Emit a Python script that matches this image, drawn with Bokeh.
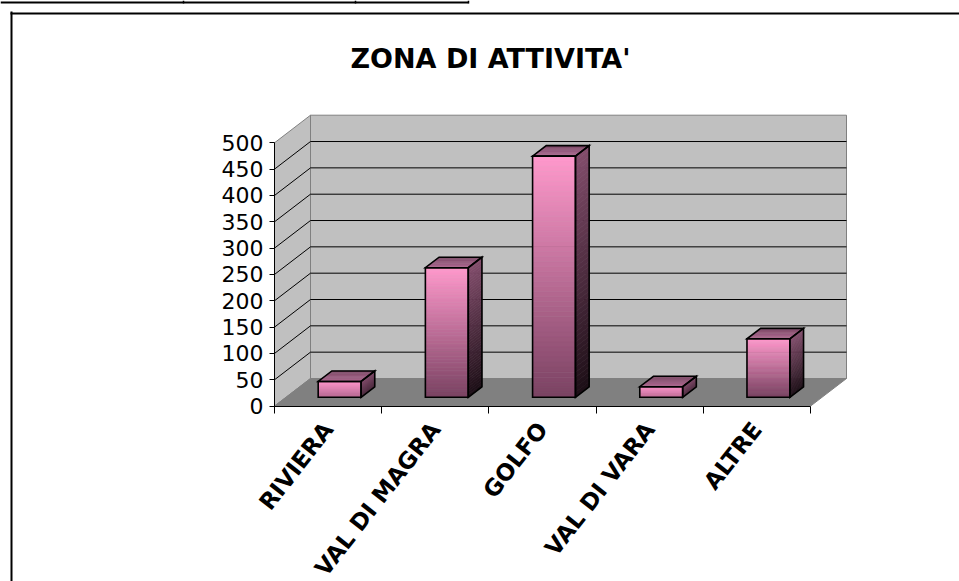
import math
from bokeh.plotting import figure
from bokeh.models import LinearAxis, FixedTicker, Range1d, Label
from bokeh.embed import file_html
from bokeh.resources import INLINE

# ---------------- data ----------------
categories = ["RIVIERA", "VAL DI MAGRA", "GOLFO", "VAL DI VARA", "ALTRE"]
values = [30, 246, 458, 20, 111]
y_ticks = [0, 50, 100, 150, 200, 250, 300, 350, 400, 450, 500]
title_text = "ZONA DI ATTIVITA'"

# ---------------- layout (pixels of the page) ----------------
W, H = 959, 581
PAGE = 0
ORIGIN_PX = (274.0, 405.6)        # page pixel of the front corner (category 0, value 0)
PX_PER_CAT = 107.2
PX_PER_VAL = 263.3 / 500.0
DEPTH_PX = (36.0, 27.6)           # 3-D depth offset in pixels
Y_MAX = 500
BAR_W = 0.40
BAR_Z0, BAR_Z1 = 0.32, 0.70

DX = DEPTH_PX[0] / PX_PER_CAT
DY = DEPTH_PX[1] / PX_PER_VAL
n = len(categories)


def px2x(px):
    return (px - ORIGIN_PX[0]) / PX_PER_CAT


def px2y(py):
    return (ORIGIN_PX[1] - py) / PX_PER_VAL


x_range = Range1d(px2x(PAGE), px2x(PAGE + W))
y_range = Range1d(px2y(PAGE + H), px2y(PAGE))

p = figure(width=W, height=H, x_range=x_range, y_range=y_range,
           x_axis_type=None, y_axis_type=None, toolbar_location=None,
           output_backend="svg", min_border=0)
p.min_border_left = p.min_border_right = p.min_border_top = p.min_border_bottom = 0
p.outline_line_color = None
p.background_fill_color = "white"
p.border_fill_color = "white"
for g in p.grid:
    g.visible = False

# ---------------- walls & floor ----------------
WALL = "#c0c0c0"
FLOOR = "#808080"
EDGE = "#808080"
p.patch([DX, n + DX, n + DX, DX], [DY, DY, Y_MAX + DY, Y_MAX + DY],
        fill_color=WALL, line_color=EDGE, line_width=1)
p.patch([0, DX, DX, 0], [0, DY, Y_MAX + DY, Y_MAX],
        fill_color=WALL, line_color=EDGE, line_width=1)
p.patch([0, n, n + DX, DX], [0, 0, DY, DY],
        fill_color=FLOOR, line_color=FLOOR, line_width=1)

grid_vals = y_ticks[1:-1]
p.segment(x0=[DX] * len(grid_vals), y0=[v + DY for v in grid_vals],
          x1=[n + DX] * len(grid_vals), y1=[v + DY for v in grid_vals],
          line_color="black", line_width=1)
p.segment(x0=[0] * len(grid_vals), y0=grid_vals,
          x1=[DX] * len(grid_vals), y1=[v + DY for v in grid_vals],
          line_color="black", line_width=1)


# ---------------- bars ----------------
def hex2rgb(h):
    h = h.lstrip("#")
    return tuple(int(h[i:i + 2], 16) for i in (0, 2, 4))


def lerp(c1, c2, t):
    a, b = hex2rgb(c1), hex2rgb(c2)
    return "#%02x%02x%02x" % tuple(int(round(a[i] + (b[i] - a[i]) * t)) for i in range(3))


FRONT_TOP, FRONT_BOT = "#ff99cc", "#7a4262"
SIDE_TOP, SIDE_BOT = "#834d6c", "#1c0e16"
TOP_FRONT, TOP_BACK = "#b06a92", "#7e4a68"
NS = 48

ddx = (BAR_Z1 - BAR_Z0) * DX
ddy = (BAR_Z1 - BAR_Z0) * DY

fq = dict(left=[], right=[], top=[], bottom=[], color=[])
sx, sy, sc = [], [], []
tx, ty, tc = [], [], []
ox, oy = [], []

for i, v in enumerate(values):
    cx = i + 0.5
    left = cx - BAR_W / 2 + BAR_Z0 * DX
    right = left + BAR_W
    bot = BAR_Z0 * DY
    top = bot + v
    k = min(1.0, 0.35 + v * PX_PER_VAL / 90.0)
    for j in range(NS):
        ya = top - v * j / NS
        yb = top - v * (j + 1) / NS
        f = (j + 0.5) / NS
        fq["left"].append(left)
        fq["right"].append(right)
        fq["top"].append(ya)
        fq["bottom"].append(yb)
        fq["color"].append(lerp(FRONT_TOP, FRONT_BOT, f * k))
        sx.append([right, right + ddx, right + ddx, right])
        sy.append([yb, yb + ddy, ya + ddy, ya])
        sc.append(lerp(SIDE_TOP, SIDE_BOT, f * k))
    NT = 8
    for j in range(NT):
        za, zb = j / NT, (j + 1) / NT
        tx.append([left + za * ddx, right + za * ddx, right + zb * ddx, left + zb * ddx])
        ty.append([top + za * ddy, top + za * ddy, top + zb * ddy, top + zb * ddy])
        tc.append(lerp(TOP_FRONT, TOP_BACK, (j + 0.5) / NT))
    # outlines
    ox += [[left, right, right, left],
           [right, right + ddx, right + ddx, right],
           [left, right, right + ddx, left + ddx]]
    oy += [[bot, bot, top, top],
           [bot, bot + ddy, top + ddy, top],
           [top, top, top + ddy, top + ddy]]

p.quad(left="left", right="right", top="top", bottom="bottom", source=fq,
       fill_color="color", line_color="color", line_width=0.5)
p.patches(sx, sy, fill_color=sc, line_color=sc, line_width=0.5)
p.patches(tx, ty, fill_color=tc, line_color=tc, line_width=0.5)
p.patches(ox, oy, fill_color=None, line_color="black", line_width=1.6,
          line_join="miter")

# ---------------- axes ----------------
yaxis = LinearAxis(fixed_location=0, ticker=FixedTicker(ticks=y_ticks),
                   bounds=(0, Y_MAX))
yaxis.major_tick_in = 0
yaxis.major_tick_out = 5
yaxis.minor_tick_in = 0
yaxis.minor_tick_out = 0
yaxis.axis_line_color = "black"
yaxis.major_tick_line_color = "black"
yaxis.major_label_text_font = "DejaVu Sans"
yaxis.major_label_text_font_size = "22px"
yaxis.major_label_text_color = "black"
yaxis.major_label_standoff = 6
p.add_layout(yaxis, "left")

centers = [i + 0.5 for i in range(n)]
xaxis = LinearAxis(fixed_location=0,
                   ticker=FixedTicker(ticks=centers, minor_ticks=list(range(n + 1))),
                   bounds=(0, n))
xaxis.major_tick_in = 0
xaxis.major_tick_out = 0
xaxis.minor_tick_in = 0
xaxis.minor_tick_out = 7
xaxis.minor_tick_line_color = "black"
xaxis.axis_line_color = "black"
xaxis.major_label_overrides = {c: lab for c, lab in zip(centers, categories)}
xaxis.major_label_orientation = math.radians(52)
xaxis.major_label_text_font = "DejaVu Sans"
xaxis.major_label_text_font_style = "bold"
xaxis.major_label_text_font_size = "23px"
xaxis.major_label_text_color = "black"
xaxis.major_label_standoff = 12
p.add_layout(xaxis, "below")

# ---------------- title & frame ----------------
p.add_layout(Label(x=px2x(490), y=px2y(58), text=title_text,
                   text_align="center", text_baseline="alphabetic",
                   text_font="DejaVu Sans", text_font_style="bold",
                   text_font_size="27px", text_color="black"))

p.segment(x0=[px2x(11), px2x(10)], y0=[px2y(11), px2y(13)],
          x1=[px2x(11), px2x(PAGE + W + 2)], y1=[px2y(PAGE + H + 2), px2y(13)],
          line_color="black", line_width=2)
# thin table border at the very top of the page
p.segment(x0=[px2x(0)], y0=[px2y(2)], x1=[px2x(468)], y1=[px2y(2)],
          line_color="black", line_width=2)
p.segment(x0=[px2x(183), px2x(355), px2x(468)], y0=[px2y(0)] * 3,
          x1=[px2x(183), px2x(355), px2x(468)], y1=[px2y(3)] * 3,
          line_color="black", line_width=1.5)

open("out.html", "w").write(file_html(p, INLINE))
